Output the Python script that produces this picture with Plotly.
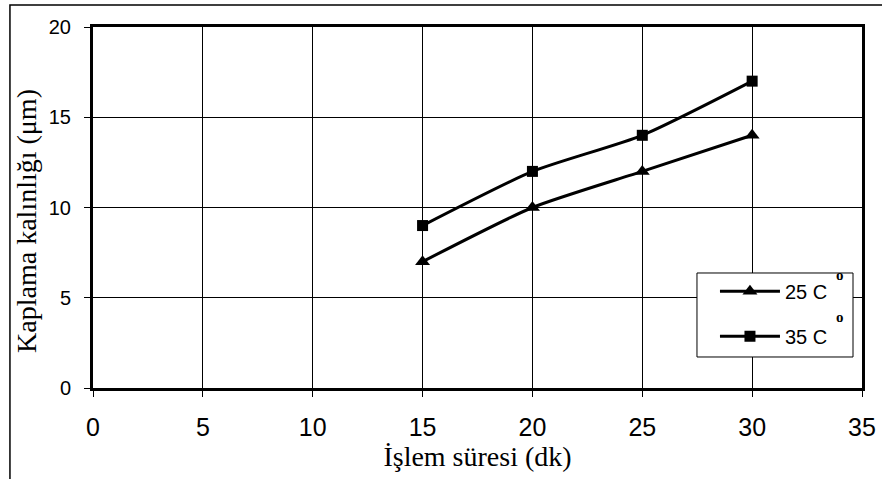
import plotly.graph_objects as go

sure = [15, 20, 25, 30]
kalinlik_25 = [7, 10, 12, 14]
kalinlik_35 = [9, 12, 14, 17]
x_ticks = [0, 5, 10, 15, 20, 25, 30, 35]
y_ticks = [0, 5, 10, 15, 20]
series_names = ["25 C", "35 C"]
degree_mark = "o"
x_title = "İşlem süresi (dk)"
y_title = "Kaplama kalınlığı (μm)"

narrow = "Liberation Sans Narrow, Arial Narrow, Liberation Sans, Arial, sans-serif"
serif = "Liberation Serif, Times New Roman, serif"

fig = go.Figure()
fig.add_trace(go.Scatter(
    x=sure, y=kalinlik_25, mode="lines+markers", name=series_names[0],
    legendgroup="a",
    line=dict(color="black", width=3, shape="spline", smoothing=0.6),
    marker=dict(symbol="triangle-up", size=13, color="black"),
))
fig.add_trace(go.Scatter(
    x=sure, y=kalinlik_35, mode="lines+markers", name=series_names[1],
    legendgroup="b",
    line=dict(color="black", width=3, shape="spline", smoothing=0.6),
    marker=dict(symbol="square", size=11, color="black"),
))

annotations = []
for yy in (0.313, 0.1967):
    annotations.append(dict(
        text="<b>" + degree_mark + "</b>", xref="paper", yref="paper",
        x=0.9714, y=yy, showarrow=False, xanchor="center", yanchor="middle",
        font=dict(family=serif, size=15, color="black"),
    ))
annotations.append(dict(
    text=y_title, xref="paper", yref="paper", x=-0.0858, y=0.463,
    textangle=-90, showarrow=False, xanchor="center", yanchor="middle",
    font=dict(family=serif, size=28, color="black"),
))

fig.update_layout(
    width=882, height=479,
    margin=dict(l=93, r=20, t=27, b=91, autoexpand=False),
    paper_bgcolor="white", plot_bgcolor="white",
    font=dict(family=narrow, size=20, color="black"),
    showlegend=True,
    legend=dict(
        x=0.8088, y=0.322, xanchor="left", yanchor="top",
        borderwidth=0, bgcolor="rgba(0,0,0,0)",
        font=dict(family=narrow, size=20, color="black"),
        itemwidth=60, tracegroupgap=16,
    ),
    annotations=annotations,
    shapes=[
        dict(type="rect", xref="paper", yref="paper",
             x0=-0.108, x1=1.05, y0=-1, y1=1.0609,
             line=dict(color="black", width=1.5), layer="below"),
        dict(type="rect", xref="paper", yref="paper",
             x0=0.7854, x1=0.9883, y0=0.0859, y1=0.3186,
             line=dict(color="black", width=1), fillcolor="white", layer="above"),
    ],
)
fig.update_xaxes(
    range=[0, 35], tickvals=x_ticks, ticktext=[str(v) for v in x_ticks],
    showgrid=True, gridcolor="black", gridwidth=1,
    showline=True, linecolor="black", linewidth=3, mirror=True,
    ticks="outside", ticklen=6, tickcolor="black", tickwidth=1,
    zeroline=False, automargin=False, ticklabelstandoff=9,
    title=dict(text=x_title, font=dict(family=serif, size=28), standoff=0),
    tickfont=dict(family=narrow, size=25),
)
fig.update_yaxes(
    range=[0, 20], tickvals=y_ticks, ticktext=[str(v) for v in y_ticks],
    showgrid=True, gridcolor="black", gridwidth=1,
    showline=True, linecolor="black", linewidth=3, mirror=True,
    ticks="outside", ticklen=6, tickcolor="black", tickwidth=1,
    zeroline=False, automargin=False, ticklabelstandoff=9,
    tickfont=dict(family=narrow, size=20),
)

fig.write_html("out.html", post_script="document.body.style.margin='0';",
               config={"displayModeBar": False})
